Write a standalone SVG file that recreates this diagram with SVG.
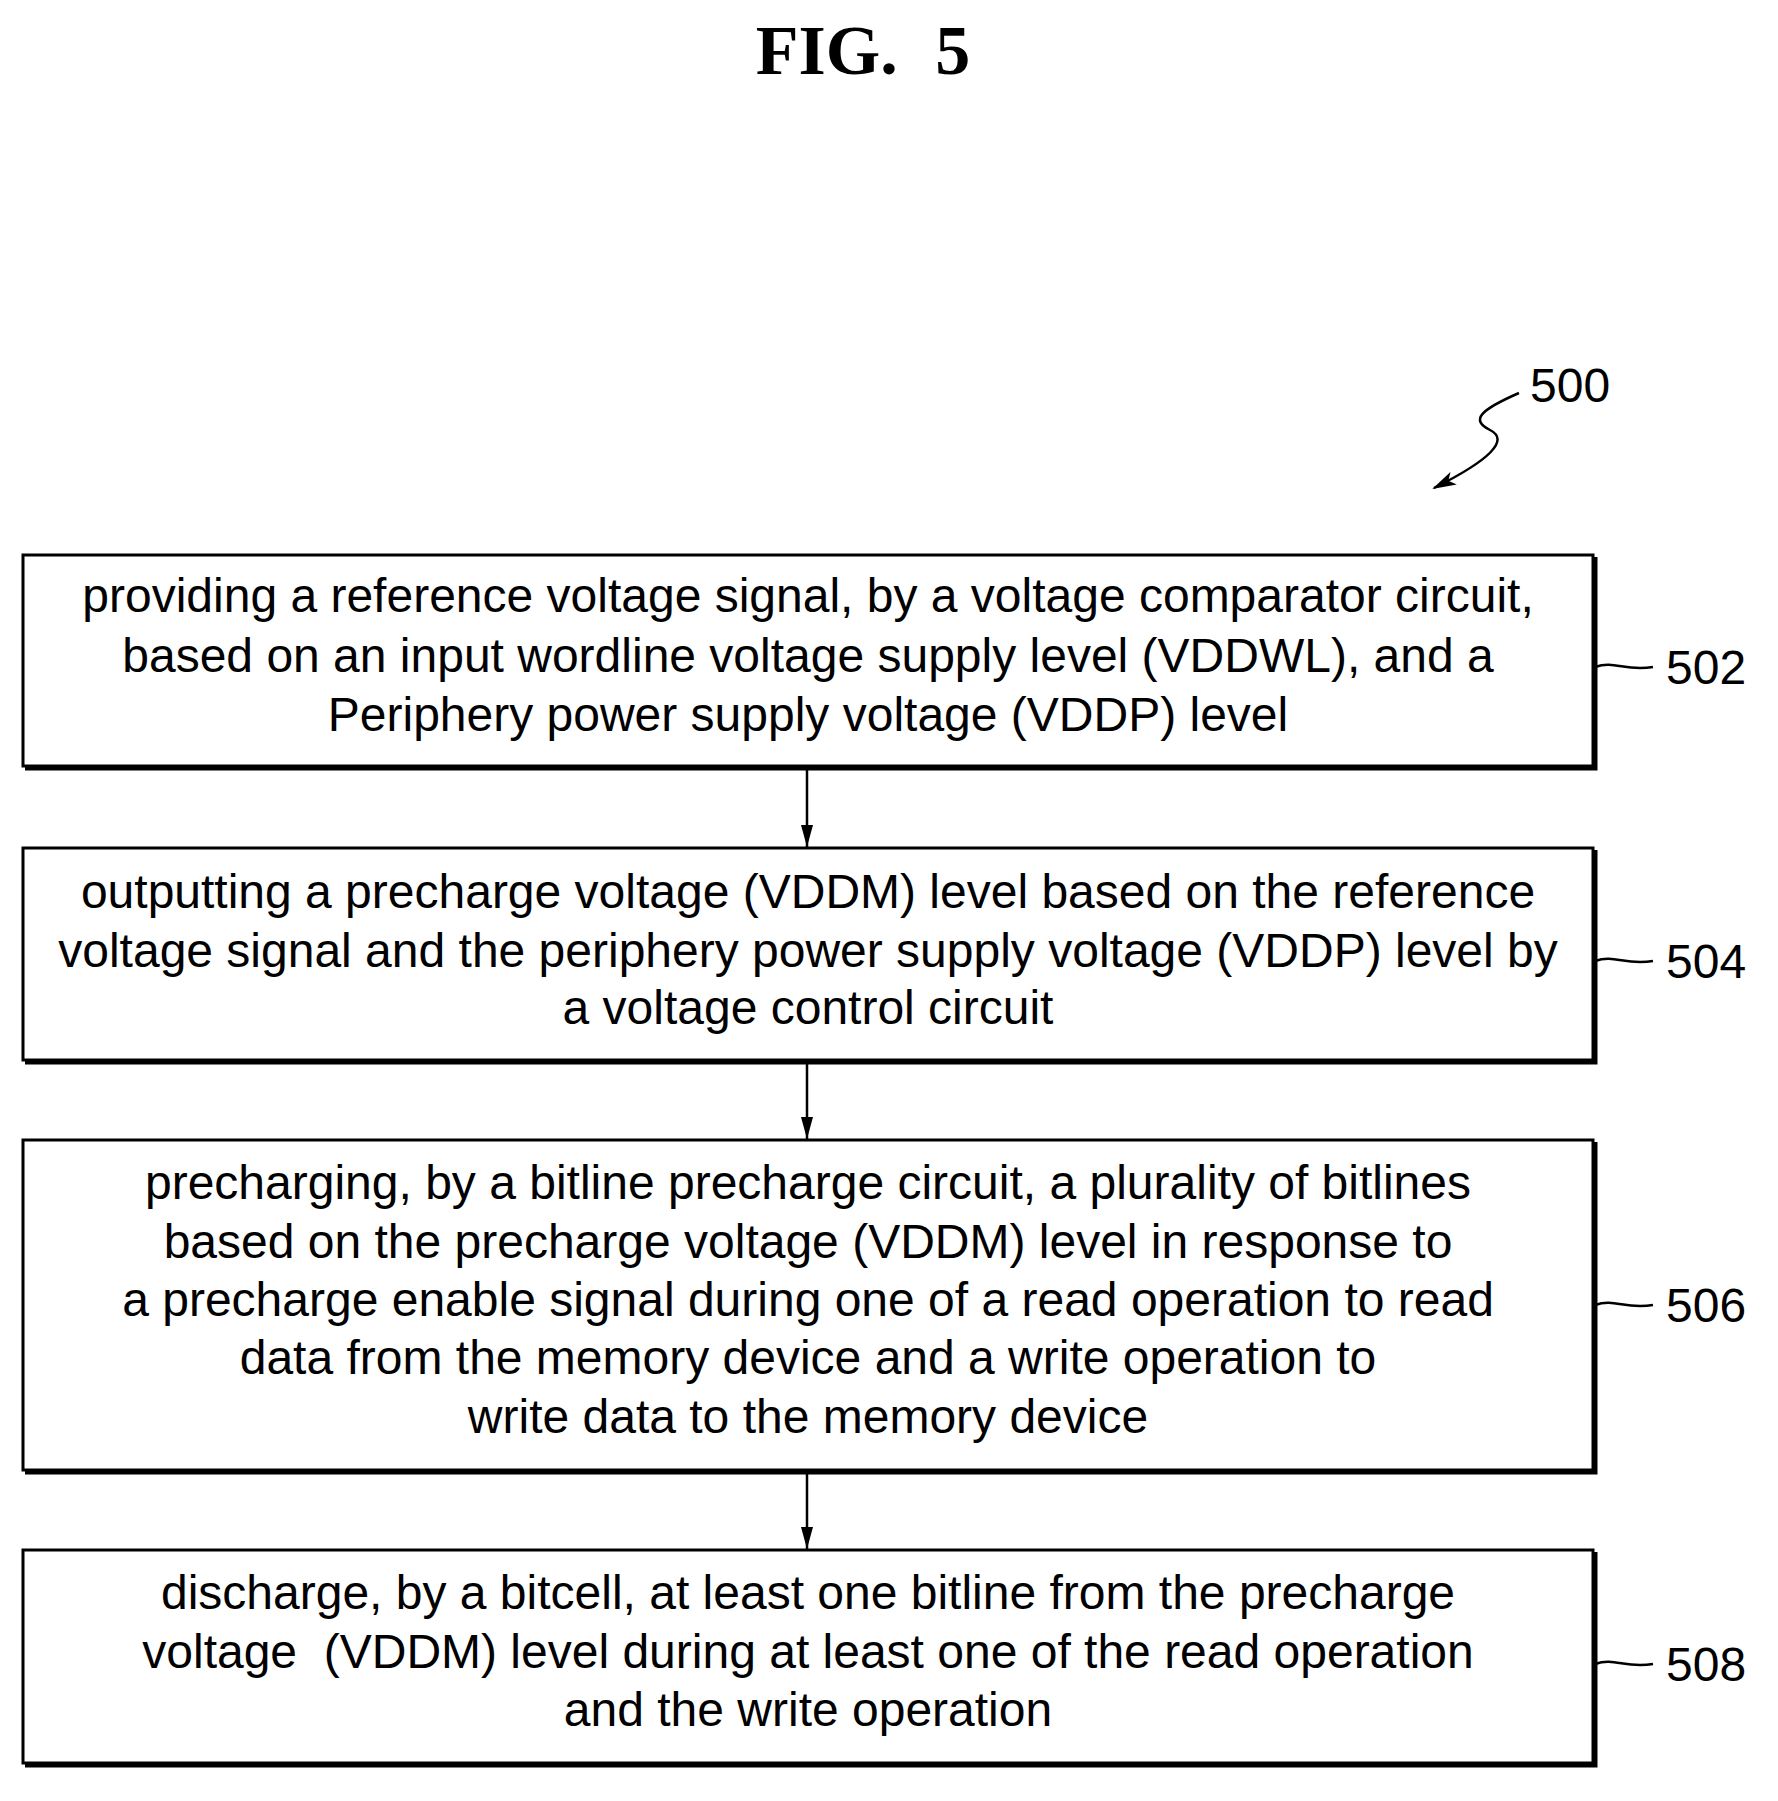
<svg xmlns="http://www.w3.org/2000/svg" width="1778" height="1801" viewBox="0 0 1778 1801">
<defs>
<style>
.box{fill:#fff;stroke:#000;stroke-width:3}
.sh{fill:none;stroke:#000;stroke-width:5}
.t{font-family:"Liberation Sans",Arial,sans-serif;font-size:48px;text-anchor:middle;fill:#000}
.lb{font-family:"Liberation Sans",Arial,sans-serif;font-size:48px;fill:#000}
.c{fill:none;stroke:#000;stroke-width:2.5}
</style>
<marker id="ah" markerWidth="22" markerHeight="12" refX="22" refY="6" orient="auto" markerUnits="userSpaceOnUse"><path d="M0,0 L22,6 L0,12 Z" fill="#000"/></marker>
<marker id="ah2" markerWidth="24" markerHeight="14" refX="22" refY="7" orient="auto" markerUnits="userSpaceOnUse"><path d="M0,0 L24,7 L0,14 L6,7 Z" fill="#000"/></marker>
</defs>
<rect width="1778" height="1801" fill="#fff"/>
<text x="863" y="74" font-family="Liberation Serif,serif" font-weight="bold" font-size="70" text-anchor="middle" word-spacing="20">FIG. 5</text>
<text x="1530" y="402" class="lb">500</text>
<path class="c" d="M1519,393 C1480,410 1470,420 1490,430 C1510,440 1490,460 1434,488" marker-end="url(#ah2)"/>
<g id="n502"><rect class="box" x="23" y="555" width="1570" height="211"/><path class="sh" d="M25,768 H1595 V557"/>
<text class="t"><tspan x="808" y="612">providing a reference voltage signal, by a voltage comparator circuit,</tspan><tspan x="808" y="672">based on an input wordline voltage supply level (VDDWL), and a</tspan><tspan x="808" y="731">Periphery power supply voltage (VDDP) level</tspan></text>
<path class="c" d="M1595,667 C1615,660 1625,672 1653,667"/><text x="1666" y="684" class="lb">502</text></g>
<g id="n504"><rect class="box" x="23" y="848" width="1570" height="212"/><path class="sh" d="M25,1062 H1595 V850"/>
<text class="t"><tspan x="808" y="908">outputting a precharge voltage (VDDM) level based on the reference</tspan><tspan x="808" y="967">voltage signal and the periphery power supply voltage (VDDP) level by</tspan><tspan x="808" y="1024">a voltage control circuit</tspan></text>
<path class="c" d="M1595,961 C1615,954 1625,966 1653,961"/><text x="1666" y="978" class="lb">504</text></g>
<g id="n506"><rect class="box" x="23" y="1140" width="1570" height="330"/><path class="sh" d="M25,1472 H1595 V1142"/>
<text class="t"><tspan x="808" y="1199">precharging, by a bitline precharge circuit, a plurality of bitlines</tspan><tspan x="808" y="1258">based on the precharge voltage (VDDM) level in response to</tspan><tspan x="808" y="1316">a precharge enable signal during one of a read operation to read</tspan><tspan x="808" y="1374">data from the memory device and a write operation to</tspan><tspan x="808" y="1433">write data to the memory device</tspan></text>
<path class="c" d="M1595,1305 C1615,1298 1625,1310 1653,1305"/><text x="1666" y="1322" class="lb">506</text></g>
<g id="n508"><rect class="box" x="23" y="1550" width="1570" height="213"/><path class="sh" d="M25,1765 H1595 V1552"/>
<text class="t"><tspan x="808" y="1609">discharge, by a bitcell, at least one bitline from the precharge</tspan><tspan x="808" y="1668" xml:space="preserve">voltage  (VDDM) level during at least one of the read operation</tspan><tspan x="808" y="1726">and the write operation</tspan></text>
<path class="c" d="M1595,1664 C1615,1657 1625,1669 1653,1664"/><text x="1666" y="1681" class="lb">508</text></g>
<g id="connectors">
<path class="c" d="M807,768 V847" marker-end="url(#ah)"/>
<path class="c" d="M807,1062 V1139" marker-end="url(#ah)"/>
<path class="c" d="M807,1472 V1549" marker-end="url(#ah)"/>
</g>
</svg>
